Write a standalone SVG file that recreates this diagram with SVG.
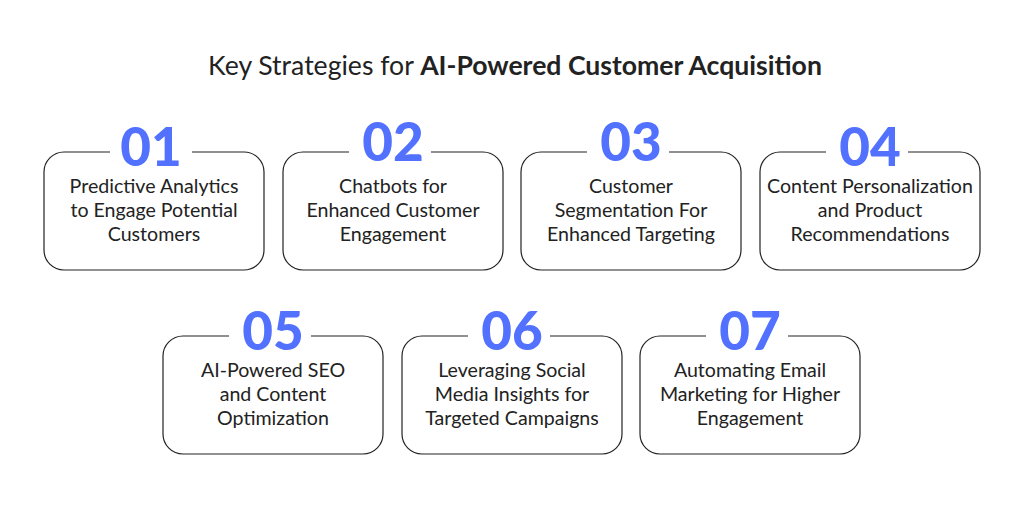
<svg xmlns="http://www.w3.org/2000/svg" width="1024" height="512" viewBox="0 0 1024 512">
<style>
.box{fill:#fff;stroke:#222;stroke-width:1.2}
.num{font-family:Lato,"Open Sans",sans-serif;font-weight:900;font-size:53px;fill:#5271ff;text-anchor:middle}
.t{font-family:Lato,"Open Sans",sans-serif;font-size:19.6px;fill:#222;text-anchor:middle}
.title{font-family:Lato,"Open Sans",sans-serif;font-size:26.6px;fill:#222;text-anchor:middle}
</style>
<rect width="1024" height="512" fill="#fff"/>
<text class="title" x="515" y="75">Key Strategies for <tspan font-weight="bold">AI-Powered Customer Acquisition</tspan></text>
<defs>
<path id="frame" d="M66,0 H20 A20,20 0 0 0 0,20 V98 A20,20 0 0 0 20,118 H200 A20,20 0 0 0 220,98 V20 A20,20 0 0 0 200,0 H148" class="box"/>
</defs>
<g id="n1" transform="translate(44,152)"><use href="#frame"/><text class="num" x="107" y="14">01</text><text class="t" x="110" y="41">Predictive Analytics</text><text class="t" x="110" y="65">to Engage Potential</text><text class="t" x="110" y="89">Customers</text></g>
<g id="n2" transform="translate(283,152)"><use href="#frame"/><text class="num" x="110" y="9">02</text><text class="t" x="110" y="41">Chatbots for</text><text class="t" x="110" y="65">Enhanced Customer</text><text class="t" x="110" y="89">Engagement</text></g>
<g id="n3" transform="translate(521,152)"><use href="#frame"/><text class="num" x="110" y="9">03</text><text class="t" x="110" y="41">Customer</text><text class="t" x="110" y="65">Segmentation For</text><text class="t" x="110" y="89">Enhanced Targeting</text></g>
<g id="n4" transform="translate(760,152)"><use href="#frame"/><text class="num" x="110" y="14">04</text><text class="t" x="110" y="41">Content Personalization</text><text class="t" x="110" y="65">and Product</text><text class="t" x="110" y="89">Recommendations</text></g>
<g id="n5" transform="translate(163,336)"><use href="#frame"/><text class="num" x="110" y="14">05</text><text class="t" x="110" y="41">AI-Powered SEO</text><text class="t" x="110" y="65">and Content</text><text class="t" x="110" y="89">Optimization</text></g>
<g id="n6" transform="translate(402,336)"><use href="#frame"/><text class="num" x="110" y="14">06</text><text class="t" x="110" y="41">Leveraging Social</text><text class="t" x="110" y="65">Media Insights for</text><text class="t" x="110" y="89">Targeted Campaigns</text></g>
<g id="n7" transform="translate(640,336)"><use href="#frame"/><text class="num" x="110" y="14">07</text><text class="t" x="110" y="41">Automating Email</text><text class="t" x="110" y="65">Marketing for Higher</text><text class="t" x="110" y="89">Engagement</text></g>
<g id="connectors"/>
</svg>
